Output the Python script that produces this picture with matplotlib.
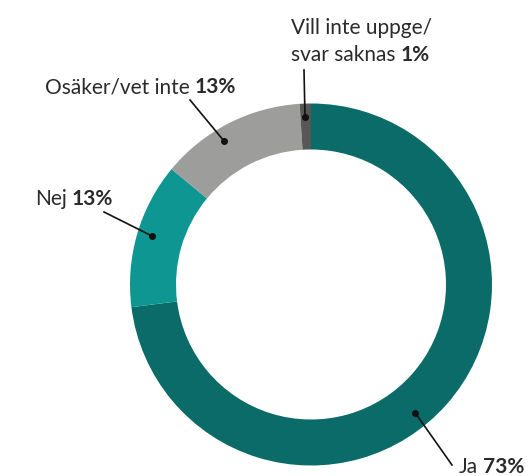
import matplotlib
matplotlib.use("Agg")
import matplotlib.pyplot as plt

# data
categories = ["Ja", "Nej", "Osäker/vet inte", "Vill inte uppge/\nsvar saknas"]
values = [73, 13, 13, 1]
colors = ["#0b6b68", "#0e9692", "#9d9d9c", "#575756"]

W, H = 532, 476
plt.rcParams["font.family"] = ["Lato", "DejaVu Sans"]
TXT = "#2a2a2a"

fig = plt.figure(figsize=(W / 100, H / 100), dpi=100)
ax = fig.add_axes([0, 0, 1, 1])

cx, cy, R, r_in = 311, H - 284.5, 181, 135
ax.pie(values, colors=colors, startangle=90, counterclock=False,
       center=(cx, cy), radius=R, frame=True,
       wedgeprops=dict(width=R - r_in, linewidth=0))
ax.set_xlim(0, W)
ax.set_ylim(0, H)
ax.set_aspect("equal")
ax.axis("off")

# label layout in pixel coords (y from top): text baseline, line start, dot
layout = [
    dict(pos=(459, 473), start=(452, 465), dot=(415, 412.5)),
    dict(pos=(35, 205), start=(104, 212), dot=(152, 236)),
    dict(pos=(45, 93), start=(190, 100), dot=(224, 141)),
    dict(pos=(291, 34), start=(304, 70), dot=(305, 117)),
]

fs = 15
fig.canvas.draw()
renderer = fig.canvas.get_renderer()
for cat, val, lay in zip(categories, values, layout):
    x0, y0 = lay["pos"]
    lines = cat.split("\n")
    for i, line in enumerate(lines):
        last = ax.text(x0, H - (y0 + 27 * i), line, fontsize=fs, color=TXT,
                       ha="left", va="baseline")
    bb = last.get_window_extent(renderer=renderer)
    xb = ax.transData.inverted().transform((bb.x1 + 5, 0))[0]
    yb = H - (y0 + 27 * (len(lines) - 1))
    ax.text(xb, yb, f"{val}%", fontsize=fs, fontweight="bold",
            color=TXT, ha="left", va="baseline")
    (sx, sy), (dx, dy) = lay["start"], lay["dot"]
    ax.plot([sx, dx], [H - sy, H - dy], color="#111111", lw=1.2)
    ax.plot(dx, H - dy, "o", color="#111111", ms=4)

fig.savefig("out.png", dpi=100)
